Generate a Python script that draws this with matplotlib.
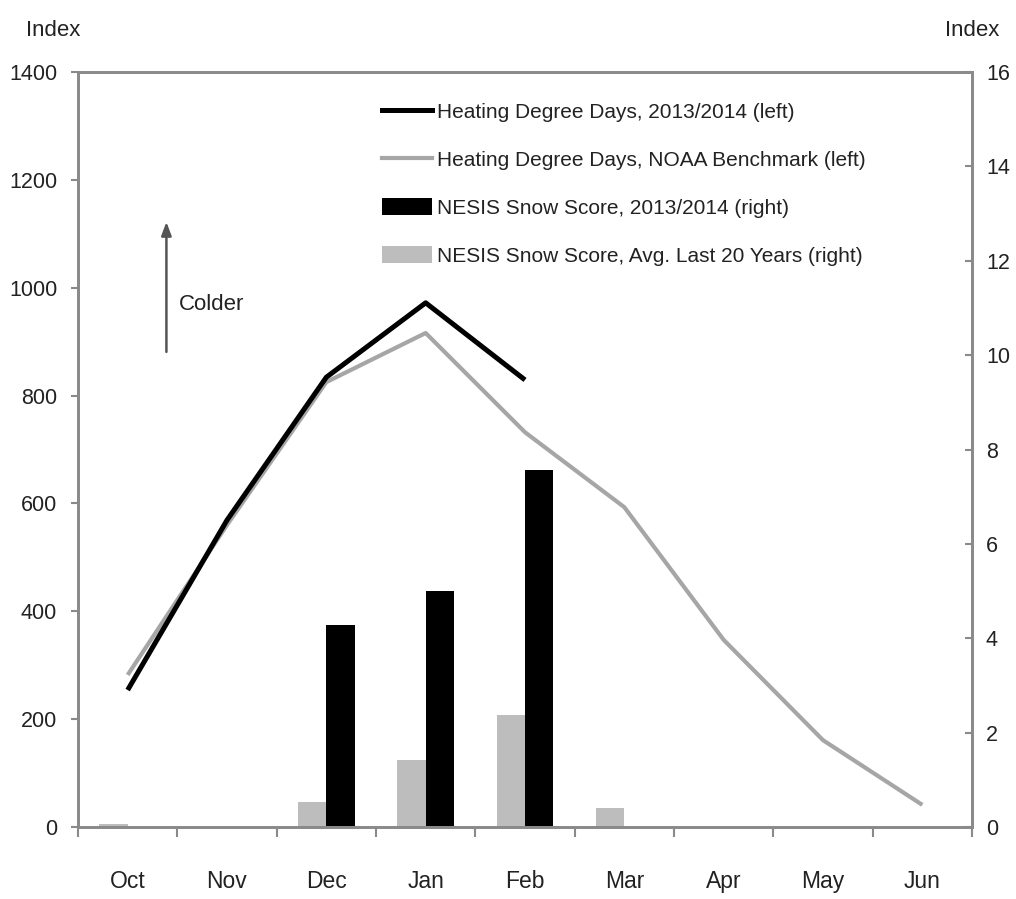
import matplotlib
matplotlib.use("Agg")
import matplotlib.pyplot as plt
from matplotlib.lines import Line2D
from matplotlib.patches import Patch
import numpy as np

months = ["Oct", "Nov", "Dec", "Jan", "Feb", "Mar", "Apr", "May", "Jun"]
hdd_2013 = [254, 569, 834, 972, 829]
hdd_noaa = [282, 560, 825, 916, 732, 593, 347, 161, 41]
nesis_2013 = [0, 0, 4.28, 5.0, 7.57, 0, 0, 0, 0]
nesis_avg = [0.07, 0, 0.53, 1.42, 2.37, 0.40, 0, 0, 0]
left_ticks = [0, 200, 400, 600, 800, 1000, 1200, 1400]
right_ticks = [0, 2, 4, 6, 8, 10, 12, 14, 16]

FONT = ["Liberation Sans", "DejaVu Sans"]
plt.rcParams["font.family"] = FONT
TXT = "#222222"
SPINE = "#8a8a8a"

fig = plt.figure(figsize=(10.16, 8.99), dpi=100)
ax = fig.add_axes([78/1016, 1-827/899, (972-78)/1016, (827-72)/899])
ax2 = ax.twinx()

x = np.arange(len(months))
w = 0.285
ax2.bar(x - w/2, nesis_avg, width=w, color="#bdbdbd", zorder=2)
ax2.bar(x[:len(nesis_2013)] + w/2, nesis_2013, width=w, color="#000000", zorder=2)

ax.set_zorder(ax2.get_zorder() + 1)
ax.patch.set_visible(False)
ax.plot(x, hdd_noaa, color="#a6a6a6", lw=3.0, solid_capstyle="butt", zorder=3)
ax.plot(x[:len(hdd_2013)], hdd_2013, color="#000000", lw=3.6, solid_capstyle="butt", zorder=4)

ax.set_xlim(-0.5, 8.5)
ax.set_ylim(0, 1400)
ax2.set_ylim(0, 16)
ax.set_yticks(left_ticks)
ax2.set_yticks(right_ticks)
ax.set_xticks(x)
ax.set_xticklabels(months)
ax.set_xticks(np.arange(-0.5, 9.0, 1.0), minor=True)
ax.tick_params(axis="x", which="major", length=0, pad=31, labelsize=16.5, labelcolor=TXT)
ax.tick_params(axis="x", which="minor", length=7, width=1.5, color=SPINE, direction="out")
ax.tick_params(axis="y", length=5, width=1.5, color=SPINE, direction="out", pad=10,
               labelsize=15.5, labelcolor=TXT)
ax2.tick_params(axis="y", length=5, width=1.5, color=SPINE, direction="in", pad=10,
                labelsize=15.5, labelcolor=TXT)

for a in (ax, ax2):
    for s in a.spines.values():
        s.set_color(SPINE)
        s.set_linewidth(2.0)

fig.text(53/1016, 1-30/899, "Index", ha="center", va="center", fontsize=16, color=TXT)
fig.text(972/1016, 1-30/899, "Index", ha="center", va="center", fontsize=16, color=TXT)

ax.annotate("", xy=(0.39, 1122), xytext=(0.39, 881),
            arrowprops=dict(arrowstyle="-|>,head_length=0.8,head_width=0.3",
                            color="#555555", lw=1.8, shrinkA=0, shrinkB=0))
ax.text(0.52, 968, "Colder", ha="left", va="center", fontsize=16, color=TXT)

handles = [
    Line2D([], [], color="#000000", lw=3.6),
    Line2D([], [], color="#a6a6a6", lw=3.0),
    Patch(facecolor="#000000"),
    Patch(facecolor="#bdbdbd"),
]
labels = [
    "Heating Degree Days, 2013/2014 (left)",
    "Heating Degree Days, NOAA Benchmark (left)",
    "NESIS Snow Score, 2013/2014 (right)",
    "NESIS Snow Score, Avg. Last 20 Years (right)",
]
leg = ax.legend(handles, labels, loc="upper left",
                bbox_to_anchor=(382/1016, 1-102/899), bbox_transform=fig.transFigure,
                frameon=False, fontsize=15, handlelength=2.4, handleheight=0.9,
                handletextpad=0.25, labelspacing=1.35, borderpad=0, borderaxespad=0)
for t in leg.get_texts():
    t.set_color(TXT)

fig.savefig("out.png", dpi=100, facecolor="white")
